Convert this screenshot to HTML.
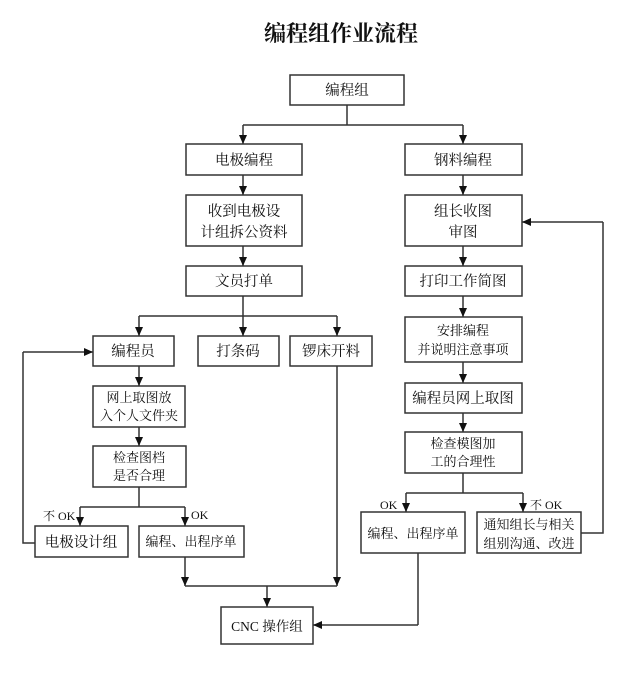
<!DOCTYPE html>
<html><head><meta charset="utf-8"><style>
html,body{margin:0;padding:0;background:#fff}
svg{display:block}
text{font-family:"Liberation Serif","Noto Serif CJK SC",serif;font-size:14.5px;fill:#111}
.t{font-size:22px;font-weight:bold}
.s{font-size:12px}
rect{fill:#fff;stroke:#333;stroke-width:1.5}
line,polyline{stroke:#333;stroke-width:1.5;fill:none}
</style></head><body>
<svg width="632" height="691" viewBox="0 0 632 691" xmlns="http://www.w3.org/2000/svg">
<defs><marker id="a" markerWidth="10" markerHeight="10" refX="9" refY="5" orient="auto" markerUnits="userSpaceOnUse"><path d="M0,1 L9,5 L0,9 Z" fill="#111"/></marker></defs>
<text class="t" x="341" y="41" text-anchor="middle">编程组作业流程</text>

<!-- connectors -->
<polyline points="347,105 347,125"/>
<polyline points="243,125 463,125"/>
<line x1="243" y1="125" x2="243" y2="144" marker-end="url(#a)"/>
<line x1="463" y1="125" x2="463" y2="144" marker-end="url(#a)"/>
<line x1="243" y1="175" x2="243" y2="195" marker-end="url(#a)"/>
<line x1="243" y1="246" x2="243" y2="266" marker-end="url(#a)"/>
<line x1="243" y1="296" x2="243" y2="336" marker-end="url(#a)"/>
<polyline points="139,316 337,316"/>
<line x1="139" y1="316" x2="139" y2="336" marker-end="url(#a)"/>
<line x1="337" y1="316" x2="337" y2="336" marker-end="url(#a)"/>
<line x1="139" y1="366" x2="139" y2="386" marker-end="url(#a)"/>
<line x1="139" y1="427" x2="139" y2="446" marker-end="url(#a)"/>
<polyline points="139,487 139,507"/>
<polyline points="80,507 185,507"/>
<line x1="80" y1="507" x2="80" y2="526" marker-end="url(#a)"/>
<line x1="185" y1="507" x2="185" y2="526" marker-end="url(#a)"/>
<polyline points="35,543 23,543 23,352"/>
<line x1="23" y1="352" x2="93" y2="352" marker-end="url(#a)"/>
<line x1="185" y1="557" x2="185" y2="586" marker-end="url(#a)"/>
<line x1="337" y1="366" x2="337" y2="586" marker-end="url(#a)"/>
<polyline points="185,586 337,586"/>
<line x1="267" y1="586" x2="267" y2="607" marker-end="url(#a)"/>

<line x1="463" y1="175" x2="463" y2="195" marker-end="url(#a)"/>
<line x1="463" y1="246" x2="463" y2="266" marker-end="url(#a)"/>
<line x1="463" y1="296" x2="463" y2="317" marker-end="url(#a)"/>
<line x1="463" y1="362" x2="463" y2="383" marker-end="url(#a)"/>
<line x1="463" y1="413" x2="463" y2="432" marker-end="url(#a)"/>
<polyline points="463,473 463,493"/>
<polyline points="406,493 523,493"/>
<line x1="406" y1="493" x2="406" y2="512" marker-end="url(#a)"/>
<line x1="523" y1="493" x2="523" y2="512" marker-end="url(#a)"/>
<polyline points="581,533 603,533 603,222"/>
<line x1="603" y1="222" x2="522" y2="222" marker-end="url(#a)"/>
<polyline points="418,553 418,625"/>
<line x1="418" y1="625" x2="313" y2="625" marker-end="url(#a)"/>

<!-- boxes -->
<rect x="290" y="75" width="114" height="30"/><text x="347" y="95" text-anchor="middle">编程组</text>
<rect x="186" y="144" width="116" height="31"/><text x="244" y="165" text-anchor="middle">电极编程</text>
<rect x="186" y="195" width="116" height="51"/><text x="244" y="216" text-anchor="middle">收到电极设</text><text x="244" y="237" text-anchor="middle">计组拆公资料</text>
<rect x="186" y="266" width="116" height="30"/><text x="244" y="286" text-anchor="middle">文员打单</text>
<rect x="93" y="336" width="81" height="30"/><text x="133" y="356" text-anchor="middle">编程员</text>
<rect x="198" y="336" width="81" height="30"/><text x="238" y="356" text-anchor="middle">打条码</text>
<rect x="290" y="336" width="82" height="30"/><text x="331" y="356" text-anchor="middle">锣床开料</text>
<rect x="93" y="386" width="92" height="41"/><text x="139" y="402" text-anchor="middle" style="font-size:13px">网上取图放</text><text x="139" y="420" text-anchor="middle" style="font-size:13px">入个人文件夹</text>
<rect x="93" y="446" width="93" height="41"/><text x="139" y="462" text-anchor="middle" style="font-size:13px">检查图档</text><text x="139" y="480" text-anchor="middle" style="font-size:13px">是否合理</text>
<text class="s" x="43" y="520">不 OK</text><text class="s" x="191" y="519">OK</text>
<rect x="35" y="526" width="93" height="31"/><text x="81" y="547" text-anchor="middle">电极设计组</text>
<rect x="139" y="526" width="105" height="31"/><text x="191" y="546" text-anchor="middle" style="font-size:13px">编程、出程序单</text>
<rect x="221" y="607" width="92" height="37"/><text x="267" y="631" text-anchor="middle" style="font-size:13.5px">CNC 操作组</text>

<rect x="405" y="144" width="117" height="31"/><text x="463" y="165" text-anchor="middle">钢料编程</text>
<rect x="405" y="195" width="117" height="51"/><text x="463" y="216" text-anchor="middle">组长收图</text><text x="463" y="237" text-anchor="middle">审图</text>
<rect x="405" y="266" width="117" height="30"/><text x="463" y="286" text-anchor="middle">打印工作简图</text>
<rect x="405" y="317" width="117" height="45"/><text x="463" y="335" text-anchor="middle" style="font-size:13px">安排编程</text><text x="463" y="354" text-anchor="middle" style="font-size:13px">并说明注意事项</text>
<rect x="405" y="383" width="117" height="30"/><text x="463" y="403" text-anchor="middle">编程员网上取图</text>
<rect x="405" y="432" width="117" height="41"/><text x="463" y="448" text-anchor="middle" style="font-size:13px">检查模图加</text><text x="463" y="466" text-anchor="middle" style="font-size:13px">工的合理性</text>
<text class="s" x="380" y="509">OK</text><text class="s" x="530" y="509">不 OK</text>
<rect x="361" y="512" width="104" height="41"/><text x="413" y="538" text-anchor="middle" style="font-size:13px">编程、出程序单</text>
<rect x="477" y="512" width="104" height="41"/><text x="529" y="529" text-anchor="middle" style="font-size:13px">通知组长与相关</text><text x="529" y="548" text-anchor="middle" style="font-size:13px">组别沟通、改进</text>
</svg>
</body></html>
